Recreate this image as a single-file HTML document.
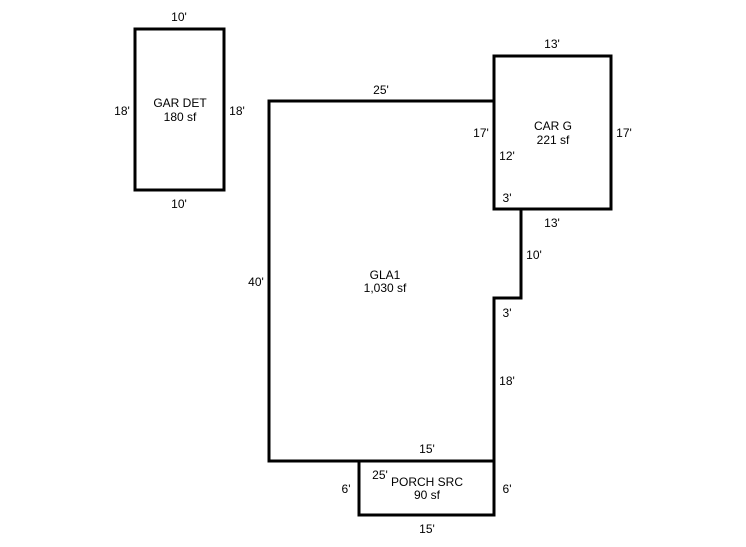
<!DOCTYPE html>
<html><head><meta charset="utf-8"><style>
html,body{margin:0;padding:0;background:#fff;}
svg{display:block;}
text{font-family:"Liberation Sans",Arial,sans-serif;font-size:12px;fill:#000;}
</style></head><body>
<svg width="746" height="547" viewBox="0 0 746 547" xmlns="http://www.w3.org/2000/svg">
<g fill="none" stroke="#000" stroke-width="3" stroke-linecap="square">
<rect x="135" y="29" width="89" height="161"/>
<polygon points="269,101 494,101 494,209 521,209 521,298 494,298 494,461 269,461"/>
<rect x="494" y="56" width="117" height="153"/>
<rect x="359" y="461" width="135" height="54"/>
</g>
<g text-anchor="middle">
<text x="179" y="21">10'</text>
<text x="179" y="208">10'</text>
<text x="122" y="115">18'</text>
<text x="237" y="115">18'</text>
<text x="180" y="107">GAR DET</text>
<text x="180" y="121">180 sf</text>
<text x="381" y="94">25'</text>
<text x="256" y="286">40'</text>
<text x="385" y="279">GLA1</text>
<text x="385" y="292">1,030 sf</text>
<text x="552" y="48">13'</text>
<text x="552" y="227">13'</text>
<text x="481" y="137">17'</text>
<text x="624" y="137">17'</text>
<text x="553" y="130">CAR G</text>
<text x="553" y="144">221 sf</text>
<text x="507" y="160">12'</text>
<text x="507" y="202">3'</text>
<text x="534" y="259">10'</text>
<text x="507" y="317">3'</text>
<text x="507" y="385">18'</text>
<text x="427" y="453">15'</text>
<text x="380" y="479">25'</text>
<text x="427" y="486">PORCH SRC</text>
<text x="427" y="499">90 sf</text>
<text x="346" y="493">6'</text>
<text x="507" y="493">6'</text>
<text x="427" y="533">15'</text>
</g>
</svg>
</body></html>
